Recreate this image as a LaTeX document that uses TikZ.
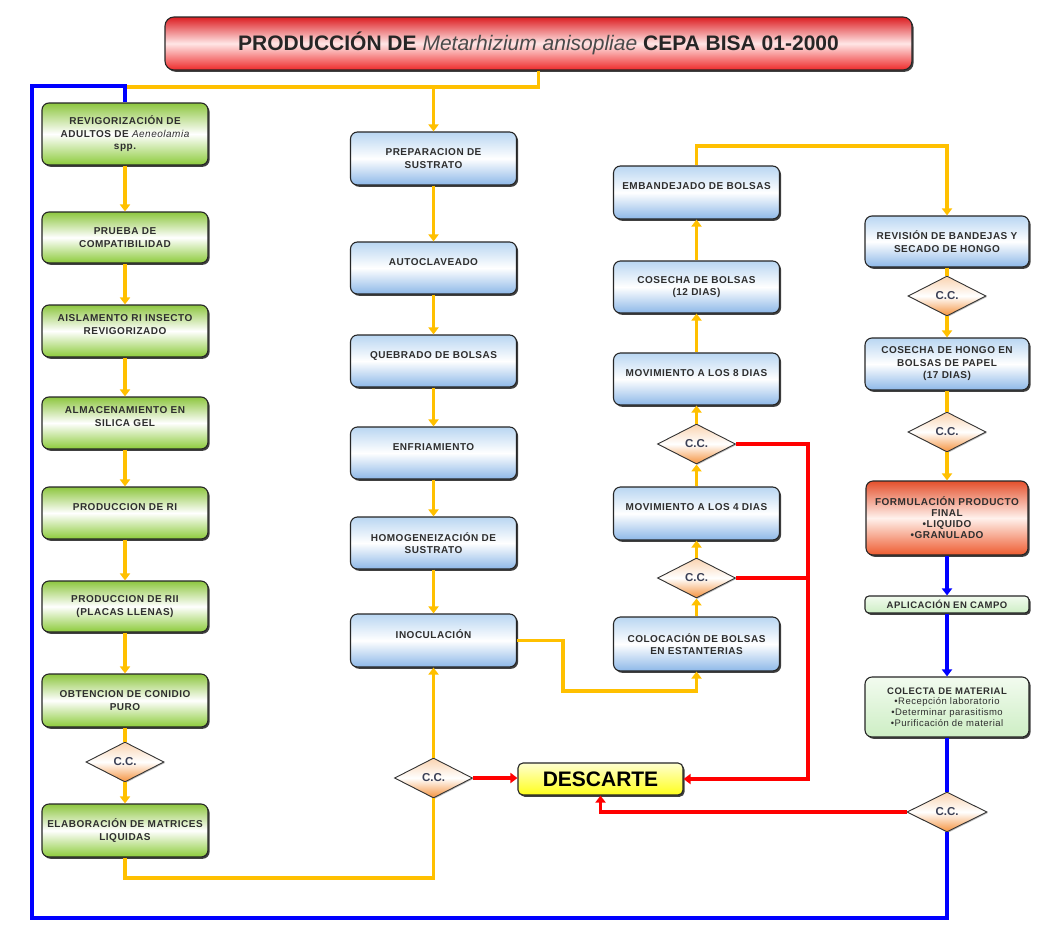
\documentclass[tikz,border=0pt]{standalone}
\usepackage{fontspec}
\setmainfont{Liberation Sans}
\newfontfamily\boxfont[LetterSpace=5]{Liberation Sans}
\usetikzlibrary{shapes.geometric,arrows.meta,shadows}

\definecolor{ylw}{HTML}{FFC000}
\definecolor{blu}{HTML}{0000FF}
\definecolor{rdl}{HTML}{FF0000}
\definecolor{grTop}{HTML}{8DC63F}
\definecolor{grBot}{HTML}{8CCB3A}
\definecolor{bxTop}{HTML}{B9D6F2}
\definecolor{bxBot}{HTML}{8DB8E8}
\definecolor{dmTop}{HTML}{FAD3B0}
\definecolor{dmBot}{HTML}{F5923E}
\definecolor{lgTop}{HTML}{F2FBEF}
\definecolor{lgBot}{HTML}{CDEEC4}
\definecolor{txt}{HTML}{2E2E2E}
\definecolor{cctxt}{HTML}{3A3F55}
\definecolor{tiTop}{HTML}{DC1E22}
\definecolor{tiMid}{HTML}{FFE6E6}
\definecolor{tiBot}{HTML}{EE2A2A}
\definecolor{orTop}{HTML}{E4502C}
\definecolor{orMid}{HTML}{FFF1EC}
\definecolor{orBot}{HTML}{EE5C30}
\definecolor{dsTop}{HTML}{FFFFD0}
\definecolor{dsBot}{HTML}{FFFF1A}
\definecolor{itgray}{HTML}{4A4A4A}

\tikzset{
  box/.style={rounded corners=7pt, draw=black!85, line width=1.1pt, align=center,
    font=\boxfont\bfseries\fontsize{10}{12.5}\selectfont, text=txt,
    minimum width=166pt, inner sep=2pt,
    drop shadow={shadow xshift=1.6pt, shadow yshift=-1.8pt, fill=black!75, opacity=1}},
  gbox/.style={box, top color=grTop, bottom color=grBot, middle color=white},
  bbox/.style={box, top color=bxTop, bottom color=bxBot, middle color=white},
  obox/.style={box, top color=orTop, bottom color=orBot, middle color=orMid},
  lbox/.style={box, top color=lgTop, bottom color=lgBot, minimum width=164pt},
  cc/.style={diamond, draw=black!80, line width=0.9pt, minimum width=78pt, minimum height=40pt,
    inner sep=0pt, aspect=2, top color=dmTop, bottom color=dmBot, middle color=white,
    font=\bfseries\fontsize{11.5}{13}\selectfont, text=cctxt,
    drop shadow={shadow xshift=1pt, shadow yshift=-1pt, fill=black!50}},
  yl/.style={draw=ylw, line width=3.6pt},
  bl/.style={draw=blu, line width=3.6pt},
  rd/.style={draw=rdl, line width=3.6pt},
  tip/.style={-{Triangle[width=10pt,length=7pt]}},
}

\begin{document}
\begin{tikzpicture}[x=1pt,y=-1pt]
\fill[white] (0,0) rectangle (1049,926);
\useasboundingbox (0,0) rectangle (1049,926);

% title
\node[box, minimum width=747pt, minimum height=53pt, rounded corners=9pt,
  top color=tiTop, bottom color=tiBot, middle color=tiMid,
  font=\bfseries\fontsize{21}{24}\selectfont, text=black!85] (T) at (538.5,43.5)
  {PRODUCCIÓN DE {\mdseries\itshape\textcolor{itgray}{Metarhizium anisopliae}} CEPA BISA 01-2000};

% first column
\node[gbox, minimum height=62pt] (L1) at (125,134) {REVIGORIZACIÓN DE\\ADULTOS DE {\mdseries\itshape Aeneolamia}\\spp.};
\node[gbox, minimum height=51pt] (L2) at (125,237.5) {PRUEBA DE\\COMPATIBILIDAD};
\node[gbox, minimum height=52pt] (L3) at (125,331) {AISLAMENTO RI INSECTO\\REVIGORIZADO\\\mbox{}};
\node[gbox, minimum height=52pt] (L4) at (125,423) {ALMACENAMIENTO EN\\SILICA GEL\\\mbox{}};
\node[gbox, minimum height=52pt] (L5) at (125,513) {PRODUCCION DE RI\\\mbox{}};
\node[gbox, minimum height=51pt] (L6) at (125,606.5) {PRODUCCION DE RII\\(PLACAS LLENAS)};
\node[gbox, minimum height=53pt] (L7) at (125,700.5) {OBTENCION DE CONIDIO\\PURO};
\node[cc] (D1) at (125,762) {C.C.};
\node[gbox, minimum height=53pt] (L8) at (125,830.5) {ELABORACIÓN DE MATRICES\\LIQUIDAS};

% second column
\node[bbox, minimum height=53pt] (M1) at (433.5,158.5) {PREPARACION DE\\SUSTRATO};
\node[bbox, minimum height=52pt] (M2) at (433.5,268) {AUTOCLAVEADO\\\mbox{}};
\node[bbox, minimum height=52pt] (M3) at (433.5,361) {QUEBRADO DE BOLSAS\\\mbox{}};
\node[bbox, minimum height=52pt] (M4) at (433.5,453) {ENFRIAMIENTO\\\mbox{}};
\node[bbox, minimum height=52pt] (M5) at (433.5,543) {HOMOGENEIZACIÓN DE\\SUSTRATO};
\node[bbox, minimum height=53pt] (M6) at (433.5,640.5) {INOCULACIÓN\\\mbox{}};
\node[cc] (D2) at (433.5,778) {C.C.};

% discard box
\node[box, minimum width=165pt, minimum height=32pt, rounded corners=5pt,
  top color=dsTop, bottom color=dsBot,
  font=\bfseries\fontsize{21}{24}\selectfont, text=black] (DESC) at (600.5,779) {DESCARTE};

% third column
\node[bbox, minimum height=53pt] (R1) at (696.5,192.5) {EMBANDEJADO DE BOLSAS\\\mbox{}};
\node[bbox, minimum height=52pt] (R2) at (696.5,287) {COSECHA DE BOLSAS\\(12 DIAS)};
\node[bbox, minimum height=52pt] (R3) at (696.5,379) {MOVIMIENTO A LOS 8 DIAS\\\mbox{}};
\node[cc] (D3) at (696.5,444) {C.C.};
\node[bbox, minimum height=53pt] (R4) at (696.5,513.5) {MOVIMIENTO A LOS 4 DIAS\\\mbox{}};
\node[cc] (D4) at (696.5,578) {C.C.};
\node[bbox, minimum height=54pt] (R5) at (696.5,644) {COLOCACIÓN DE BOLSAS\\EN ESTANTERIAS};

% fourth column
\node[bbox, minimum width=164pt, minimum height=51pt] (F1) at (947,241.5) {REVISIÓN DE BANDEJAS Y\\SECADO DE HONGO};
\node[cc] (D5) at (947,296) {C.C.};
\node[bbox, minimum width=164pt, minimum height=52pt] (F2) at (947,364) {COSECHA DE HONGO EN\\BOLSAS DE PAPEL\\(17 DIAS)};
\node[cc] (D6) at (947,432) {C.C.};
\node[obox, minimum width=162pt, minimum height=74pt, font=\boxfont\bfseries\fontsize{10}{11}\selectfont] (F3) at (947,518)
  {FORMULACIÓN PRODUCTO\\FINAL\\•LIQUIDO\\•GRANULADO};
\node[lbox, minimum height=17pt, inner sep=1pt, rounded corners=4pt, font=\boxfont\bfseries\fontsize{9.5}{10}\selectfont] (F4) at (947,604.5) {APLICACIÓN EN CAMPO};
\node[lbox, minimum height=60pt, font=\boxfont\bfseries\fontsize{9.5}{10.8}\selectfont] (F5) at (947,707)
  {COLECTA DE MATERIAL\\{\mdseries •Recepción laboratorio}\\{\mdseries •Determinar parasitismo}\\{\mdseries •Purificación de material}};
\node[cc, minimum width=80pt] (D7) at (947,812) {C.C.};

% junction points
\coordinate (y0) at (125,87);
\coordinate (b1) at (32,918);
\coordinate (b2) at (32,86);
\coordinate (y1) at (947,146);
\coordinate (y2) at (563,691);
\coordinate (y3) at (433.5,878);
\coordinate (r2) at (808,779);

% yellow flow
\draw[yl] (T.south) |- (y0);
\draw[yl,tip] (M1.north |- y0) -- (M1.north);
\foreach \a/\b in {L1/L2,L2/L3,L3/L4,L4/L5,L5/L6,L6/L7,D1/L8,
                   M1/M2,M2/M3,M3/M4,M4/M5,M5/M6,
                   R5/D4,D4/R4,R4/D3,D3/R3,R3/R2,R2/R1,
                   D5/F2,D6/F3}
  \draw[yl,tip] (\a) -- (\b);
\draw[yl] (L7) -- (D1);
\draw[yl] (F1) -- (D5);
\draw[yl] (F2) -- (D6);
\draw[yl] (L8.south) |- (y3) -- (D2.south);
\draw[yl,tip] (D2.north) -- (M6.south);
\draw[yl,tip] (M6.east) -| (y2) -| (R5.south);
\draw[yl,tip] (R1.north) |- (y1) -- (F1.north);

% blue flow
\draw[bl,tip] (F3) -- (F4);
\draw[bl,tip] (F4) -- (F5);
\draw[bl] (F5) -- (D7);
\draw[bl] (D7.south) |- (b1) -- (b2) -| (L1.north);

% red discard lines
\draw[rd,tip] (D2.east) -- (D2.east -| DESC.west);
\draw[rd,tip] (D3.east) -| (r2) -- (DESC.east);
\draw[rd] (D4.east) -- (D4.east -| r2);
\draw[rd,tip] (D7.west) -| (DESC.south);
\end{tikzpicture}
\end{document}
